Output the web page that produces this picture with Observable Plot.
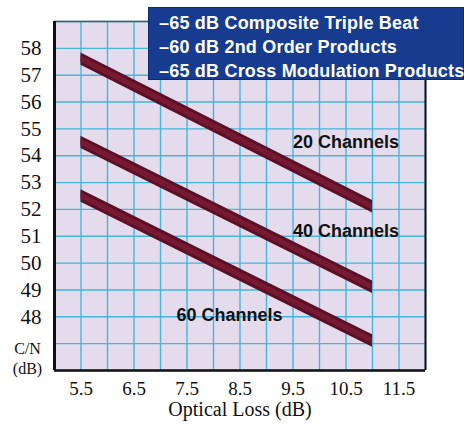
<!DOCTYPE html>
<html><head><meta charset="utf-8">
<script src="https://cdn.jsdelivr.net/npm/d3@7"></script>
<script src="https://cdn.jsdelivr.net/npm/@observablehq/plot@0.6"></script>
<style>
body{margin:0;background:#fff;}
#wrap{position:relative;width:464px;height:424px;overflow:hidden;}
#legend{position:absolute;left:148px;top:7px;width:316px;height:73px;background:#173c8f;color:#fff;
  font:bold 18px "Liberation Sans",Arial,sans-serif;box-sizing:border-box;padding:3px 0 0 10px;line-height:24px;letter-spacing:0.2px;white-space:nowrap;
  border:1px solid #0d2a6e;}
</style></head>
<body><div id="wrap"><div id="chart"></div><div id="legend"></div></div>
<script>
const channels = ["20 Channels", "40 Channels", "60 Channels"];
const loss = [5.5, 11.0];
const cn20 = [57.6, 52.1];
const cn40 = [54.5, 49.1];
const cn60 = [52.5, 47.1];
const labelLoss = [10.5, 10.5, 8.3];
const labelCN = [54.5, 51.2, 48.05];
const xTicks = [5.5, 6.5, 7.5, 8.5, 9.5, 10.5, 11.5];
const yTicks = [48, 49, 50, 51, 52, 53, 54, 55, 56, 57, 58];
const xGrid = d3.range(5, 12.01, 0.5);
const yGrid = d3.range(46, 59.01, 1);
const legendLines = ["\u201365 dB Composite Triple Beat", "\u201360 dB 2nd Order Products", "\u201365 dB Cross Modulation Products"];

const series = [cn20, cn40, cn60];
const lineData = series.flatMap((vals, i) => vals.map((v, j) => ({ch: channels[i], loss: loss[j], cn: v})));
const labels = channels.map((c, i) => ({ch: c, loss: labelLoss[i], cn: labelCN[i]}));

const half = 0.23;
const serif = '"Liberation Serif","DejaVu Serif",serif';
const sans = '"Liberation Sans",Arial,sans-serif';

const chart = Plot.plot({
  width: 464, height: 424,
  marginLeft: 54, marginRight: 39, marginTop: 21, marginBottom: 54,
  x: {domain: [5, 12]},
  y: {domain: [46, 59]},
  style: {fontFamily: serif, background: "transparent"},
  marks: [
    Plot.frame({fill: "#e4dcec", stroke: null}),
    Plot.ruleX(xGrid, {stroke: "#46b6dc", strokeWidth: 1.4}),
    Plot.ruleY(yGrid, {stroke: "#46b6dc", strokeWidth: 1.4}),
    ...channels.map(c => Plot.areaY(lineData.filter(d => d.ch === c), {
      x: "loss", y1: d => d.cn - half, y2: d => d.cn + half, fill: "#5a1026", curve: "linear"})),
    ...channels.map(c => Plot.areaY(lineData.filter(d => d.ch === c), {
      x: "loss", y1: d => d.cn - half * 0.5, y2: d => d.cn + half * 0.5, fill: "#761931", curve: "linear"})),
    Plot.text(labels, {x: "loss", y: "cn", text: "ch", fontFamily: sans, fontWeight: "bold", fontSize: 18, fill: "#111", letterSpacing: "-0.3px"}),
    Plot.ruleY([59], {stroke: "#555", strokeWidth: 1.5}),
    Plot.ruleY([46], {stroke: "#111", strokeWidth: 2.5}),
    Plot.ruleX([12], {stroke: "#111", strokeWidth: 2}),
    Plot.ruleX([5], {stroke: "#111", strokeWidth: 3}),
    Plot.axisY(yTicks, {tickSize: 0, tickPadding: 13, fontSize: 21, fontFamily: serif, label: null, fill: "#111"}),
    Plot.axisX(xTicks, {tickSize: 0, tickPadding: 11, fontSize: 19, fontFamily: serif, label: null, fill: "#111", tickFormat: d => String(d)}),
    Plot.text(["Optical Loss (dB)"], {frameAnchor: "bottom", dy: 45, fontSize: 20, fontFamily: serif, fill: "#111"}),
    Plot.text(["C/N\n(dB)"], {frameAnchor: "bottom-left", dx: -27, dy: 3, lineAnchor: "bottom", lineHeight: 1.2, fontSize: 16, fontFamily: serif, fill: "#111", textAnchor: "middle"})
  ]
});
document.getElementById("chart").appendChild(chart);
document.getElementById("legend").innerHTML = legendLines.map(t => `<div>${t}</div>`).join("");
</script>
</body></html>
